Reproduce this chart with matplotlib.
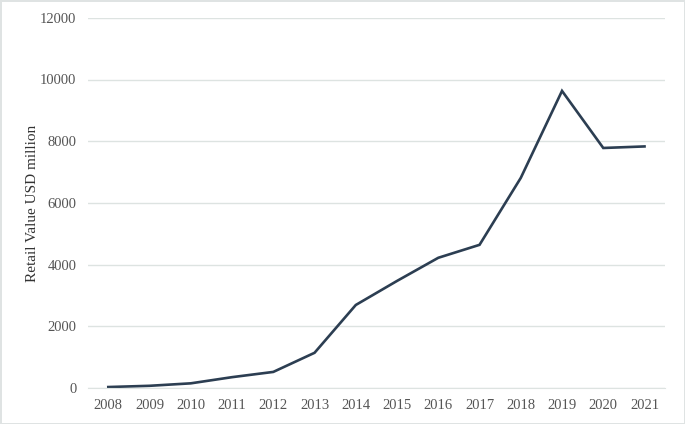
import matplotlib.pyplot as plt

years = ['2008', '2009', '2010', '2011', '2012', '2013', '2014', '2015',
         '2016', '2017', '2018', '2019', '2020', '2021']
retail_value = [30, 70, 150, 350, 520, 1140, 2690, 3470,
                4220, 4640, 6810, 9630, 7780, 7830]

plt.rcParams['font.family'] = ['Liberation Serif', 'DejaVu Serif']

fig = plt.figure(figsize=(6.85, 4.24), dpi=100)
fig.patch.set_edgecolor('#dfe3e3')
fig.patch.set_linewidth(2)
ax = fig.add_axes([0.128, 0.085, 0.843, 0.873])

x = range(len(years))
ax.plot(x, retail_value, color='#2c3e52', linewidth=1.9, solid_joinstyle='miter')

ax.set_ylim(0, 12000)
ax.set_yticks(range(0, 12001, 2000))
ax.set_xlim(-0.5, len(years) - 0.5)
ax.set_xticks(list(x))
ax.set_xticklabels(years)
ax.yaxis.grid(True, color='#dde3e1', linewidth=1)
ax.set_axisbelow(True)
for s in ['top', 'right', 'left']:
    ax.spines[s].set_visible(False)
ax.spines['bottom'].set_color('#dde3e1')
ax.tick_params(length=0, labelsize=10.5, colors='#555555', pad=8)
ax.set_ylabel('Retail Value USD million', fontsize=11, color='#333333', labelpad=1)

plt.savefig('out.png', dpi=100)
